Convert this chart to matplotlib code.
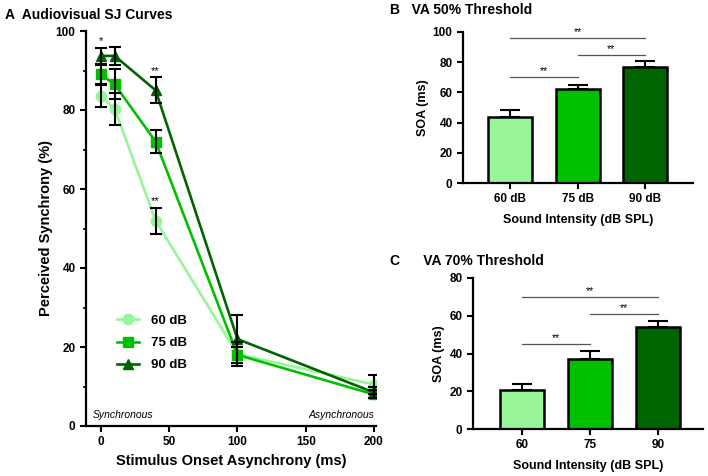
import matplotlib
matplotlib.use("Agg")
import matplotlib.pyplot as plt
from matplotlib.ticker import MultipleLocator

plt.rcParams['font.family'] = ['Liberation Sans', 'DejaVu Sans']
plt.rcParams['font.weight'] = 'bold'

# ---- data ----
soa = [0, 10, 40, 100, 200]
sj_60 = [83.5, 80.3, 52.0, 18.2, 10.5]
sj_60_err = [2.8, 4.0, 3.3, 3.0, 2.5]
sj_75 = [89.0, 86.5, 72.0, 18.0, 8.0]
sj_75_err = [2.5, 3.8, 3.0, 2.0, 1.0]
sj_90 = [93.7, 93.7, 85.0, 22.0, 8.5]
sj_90_err = [2.0, 2.2, 3.3, 6.0, 1.5]
series_labels = ['60 dB', '75 dB', '90 dB']

bar_labels_b = ['60 dB', '75 dB', '90 dB']
thr50 = [43.5, 62.5, 76.5]
thr50_err = [5.0, 2.5, 4.5]
sig50 = [(0, 1, 70), (1, 2, 85), (0, 2, 96)]

bar_labels_c = ['60', '75', '90']
thr70 = [20.5, 37.0, 54.0]
thr70_err = [3.5, 4.5, 3.0]
sig70 = [(0, 1, 45), (1, 2, 61), (0, 2, 70)]

colors = ['#98F598', '#00C000', '#006400']

fig = plt.figure(figsize=(7.08, 4.76), dpi=100)
W, H = 708, 476

def axes_px(l, r, b, t):
    return fig.add_axes([l / W, 1 - b / H, (r - l) / W, (b - t) / H])

def style(ax, tick_fs):
    for s in ['top', 'right']:
        ax.spines[s].set_visible(False)
    for s in ['left', 'bottom']:
        ax.spines[s].set_linewidth(1.6)
    ax.tick_params(width=1.5, length=4, labelsize=tick_fs)
    ax.tick_params(which='minor', width=1.2, length=2.5)
    for lab in ax.get_xticklabels() + ax.get_yticklabels():
        lab.set_fontweight('bold')

# ---- Panel A ----
axA = axes_px(86, 376, 426, 31)
markers = ['o', 's', '^']
for y, e, c, m, lab in zip([sj_60, sj_75, sj_90], [sj_60_err, sj_75_err, sj_90_err],
                           colors, markers, series_labels):
    axA.plot(soa, y, color=c, marker=m, markersize=7.5, linewidth=1.9, label=lab, zorder=2)
    axA.errorbar(soa, y, yerr=e, fmt='none', ecolor='black', elinewidth=1.5,
                 capsize=4, capthick=1.5, zorder=3)
axA.set_xlim(-11, 201.5)
axA.set_ylim(0, 100)
axA.set_xticks([0, 50, 100, 150, 200])
axA.set_yticks([0, 20, 40, 60, 80, 100])
axA.yaxis.set_minor_locator(MultipleLocator(10))
axA.set_xlabel('Stimulus Onset Asynchrony (ms)', fontsize=10.5, fontweight='bold', labelpad=4)
axA.set_ylabel('Perceived Synchrony (%)', fontsize=10.5, fontweight='bold', labelpad=2)
style(axA, 8.5)
axA.text(0, 96.3, '*', ha='center', va='bottom', fontsize=8, fontweight='normal')
axA.text(40, 88.6, '**', ha='center', va='bottom', fontsize=8, fontweight='normal')
axA.text(40, 55.6, '**', ha='center', va='bottom', fontsize=8, fontweight='normal')
axA.text(-6, 1.5, 'Synchronous', style='italic', fontweight='normal', fontsize=7.5, ha='left', va='bottom')
axA.text(200, 1.5, 'Asynchronous', style='italic', fontweight='normal', fontsize=7.5, ha='right', va='bottom')
leg = axA.legend(loc='center left', bbox_to_anchor=(0.065, 0.21), frameon=False,
                 prop={'weight': 'bold', 'size': 9.5}, handlelength=1.7, handletextpad=0.9,
                 labelspacing=0.75)
fig.text(5 / W, 1 - 15 / H, 'A  Audiovisual SJ Curves', fontsize=10, fontweight='bold', va='center')

def bar_panel(ax, labels, vals, errs, sigs, ylim, yticks, xlim):
    x = list(range(len(vals)))
    ax.bar(x, vals, width=0.65, color=colors, edgecolor='black', linewidth=1.8, zorder=2)
    ax.errorbar(x, vals, yerr=[[0] * len(errs), errs], fmt='none', ecolor='black',
                elinewidth=1.5, capsize=7, capthick=1.5, zorder=1)
    for i, j, yv in sigs:
        ax.plot([i, j], [yv, yv], color='#555555', linewidth=0.9)
        ax.text((i + j) / 2, yv + ylim[1] * 0.005, '**', ha='center', va='bottom', fontsize=7.5,
                fontweight='normal')
    ax.set_xlim(*xlim)
    ax.set_ylim(*ylim)
    ax.set_xticks(x)
    ax.set_xticklabels(labels)
    ax.set_yticks(yticks)
    ax.set_ylabel('SOA (ms)', fontsize=9, fontweight='bold', labelpad=3)
    ax.set_xlabel('Sound Intensity (dB SPL)', fontsize=9, fontweight='bold', labelpad=6)
    style(ax, 8.5)
    ax.tick_params(axis='x', length=4)

# ---- Panel B ----
axB = axes_px(463, 693, 183, 32)
bar_panel(axB, bar_labels_b, thr50, thr50_err, sig50, (0, 100), [0, 20, 40, 60, 80, 100], (-0.7, 2.71))
fig.text(390 / W, 1 - 10 / H, 'B   VA 50% Threshold', fontsize=10, fontweight='bold', va='center')

# ---- Panel C ----
axC = axes_px(473, 703, 429, 278)
bar_panel(axC, bar_labels_c, thr70, thr70_err, sig70, (0, 80), [0, 20, 40, 60, 80], (-0.72, 2.66))
fig.text(390 / W, 1 - 261 / H, 'C      VA 70% Threshold', fontsize=10, fontweight='bold', va='center')

fig.savefig('out.png', dpi=100)
